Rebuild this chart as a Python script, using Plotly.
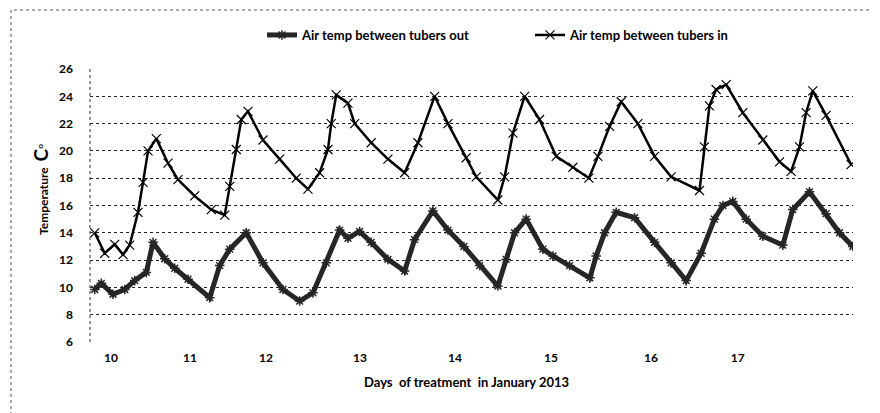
import plotly.graph_objects as go

# ---- data (days of January 2013, decimal) ----
in_days = [9.942, 10.051, 10.161, 10.252, 10.325, 10.416, 10.471, 10.526, 10.617, 10.745,
           10.854, 11.037, 11.219, 11.366, 11.421, 11.493, 11.548, 11.621, 11.785, 11.968,
           12.150, 12.278, 12.406, 12.497, 12.533, 12.588, 12.716, 12.790, 12.971, 13.154,
           13.337, 13.483, 13.666, 13.812, 14.012, 14.122, 14.359, 14.433, 14.524, 14.652,
           14.816, 14.998, 15.181, 15.356, 15.455, 15.583, 15.710, 15.893, 16.076, 16.257,
           16.568, 16.622, 16.677, 16.750, 16.860, 17.043, 17.262, 17.445, 17.572, 17.664,
           17.736, 17.809, 17.955, 18.229]
in_temp = [14.0, 12.5, 13.15, 12.4, 13.1, 15.5, 17.7, 20.0, 20.9, 19.1,
           17.9, 16.7, 15.7, 15.3, 17.4, 20.1, 22.3, 22.9, 20.8, 19.4,
           18.0, 17.2, 18.4, 20.1, 22.0, 24.1, 23.5, 22.0, 20.6, 19.4,
           18.4, 20.6, 24.0, 22.0, 19.5, 18.1, 16.4, 18.1, 21.3, 24.0,
           22.3, 19.6, 18.8, 18.0, 19.6, 21.8, 23.6, 22.0, 19.6, 18.1,
           17.1, 20.3, 23.3, 24.5, 24.85, 22.8, 20.8, 19.2, 18.5, 20.3,
           22.8, 24.4, 22.6, 19.0]

out_days = [9.942, 10.014, 10.142, 10.271, 10.380, 10.507, 10.581, 10.709, 10.818, 10.964,
            11.202, 11.311, 11.421, 11.602, 11.785, 12.004, 12.187, 12.333, 12.479, 12.625,
            12.716, 12.844, 12.970, 13.154, 13.337, 13.446, 13.647, 13.812, 13.987, 14.159,
            14.359, 14.450, 14.542, 14.669, 14.852, 14.962, 15.145, 15.367, 15.436, 15.528,
            15.655, 15.857, 16.076, 16.257, 16.422, 16.586, 16.731, 16.824, 16.933, 17.079,
            17.262, 17.481, 17.590, 17.773, 17.955, 18.102, 18.248]
out_temp = [9.85, 10.3, 9.5, 9.85, 10.5, 11.1, 13.3, 12.1, 11.4, 10.6,
            9.25, 11.6, 12.8, 14.0, 11.8, 9.85, 9.0, 9.6, 11.8, 14.2,
            13.6, 14.1, 13.3, 12.05, 11.2, 13.5, 15.6, 14.2, 13.0, 11.6,
            10.1, 12.05, 14.0, 15.0, 12.8, 12.3, 11.6, 10.7, 12.3, 14.0,
            15.5, 15.1, 13.3, 11.8, 10.5, 12.5, 15.0, 16.0, 16.3, 15.0,
            13.75, 13.1, 15.7, 17.0, 15.4, 14.0, 13.0]

day_tick_pos = [10.120, 10.986, 11.818, 12.848, 13.888, 14.940, 16.036, 16.988]
day_labels = ["10", "11", "12", "13", "14", "15", "16", "17"]
temp_ticks = [6, 8, 10, 12, 14, 16, 18, 20, 22, 24, 26]

FONT = "Lato"

fig = go.Figure()
fig.add_trace(go.Scatter(
    x=out_days, y=out_temp, name="Air temp between tubers out", mode="lines+markers",
    line=dict(color="#262626", width=5),
    marker=dict(symbol="asterisk-open", size=8, color="#262626", line=dict(color="#262626", width=1.5)),
))
fig.add_trace(go.Scatter(
    x=in_days, y=in_temp, name="Air temp between tubers in", mode="lines+markers",
    line=dict(color="#000000", width=2.5),
    marker=dict(symbol="x-thin-open", size=9, color="#000000", line=dict(color="#000000", width=1.2)),
))

L, R, T, B = 82, 35, 61, 79
W, H = 880, 413
pw, ph = W - L - R, H - T - B

def px_x(p):
    return (p - L) / pw

def px_y(p):
    return (H - B - p) / ph

fig.update_layout(
    width=W, height=H,
    margin=dict(l=L, r=R, t=T, b=B, autoexpand=False),
    paper_bgcolor="white", plot_bgcolor="white",
    font=dict(family=FONT, color="#000000"),
    showlegend=True,
    legend=dict(
        orientation="h", x=px_x(254), y=px_y(27), xanchor="left", yanchor="middle",
        font=dict(family=FONT, size=13, color="#000", weight="bold"), itemwidth=30,
        entrywidth=223, entrywidthmode="pixels", bgcolor="rgba(0,0,0,0)",
    ),
    xaxis=dict(
        range=[9.89, 18.25], tickmode="array", tickvals=day_tick_pos, ticktext=day_labels,
        showgrid=False, zeroline=False, showline=False, ticks="",
        tickfont=dict(family=FONT, size=12, color="#000", weight="bold"),
        ticklabelstandoff=7,
    ),
    yaxis=dict(
        range=[6, 26], tickmode="array", tickvals=temp_ticks,
        showgrid=True, gridcolor="#222222", griddash="dot", gridwidth=1,
        zeroline=False, showline=False, ticks="",
        tickfont=dict(family=FONT, size=12, color="#000", weight="bold"),
        ticklabelstandoff=16,
    ),
    shapes=[
        dict(type="line", xref="paper", yref="paper", x0=0, x1=0, y0=0, y1=1,
             line=dict(color="#333", width=1, dash="dot")),
        dict(type="rect", xref="paper", yref="paper", x0=px_x(3), x1=px_x(877),
             y0=px_y(408), y1=px_y(2), line=dict(color="#555", width=1, dash="dot")),
    ],
    annotations=[
        dict(text="Days  of treatment  in January 2013", xref="paper", yref="paper",
             x=px_x(458), y=px_y(374), showarrow=False, xanchor="center", yanchor="middle",
             font=dict(family=FONT, size=13, color="#000", weight="bold")),
        dict(text="Temperature  <span style='font-size:19px'>C</span><sup>o</sup>",
             xref="paper", yref="paper", x=px_x(32), y=px_y(182), textangle=-90,
             showarrow=False, xanchor="center", yanchor="middle",
             font=dict(family=FONT, size=12, color="#000", weight="bold")),
    ],
)

fig.write_html("out.html")
